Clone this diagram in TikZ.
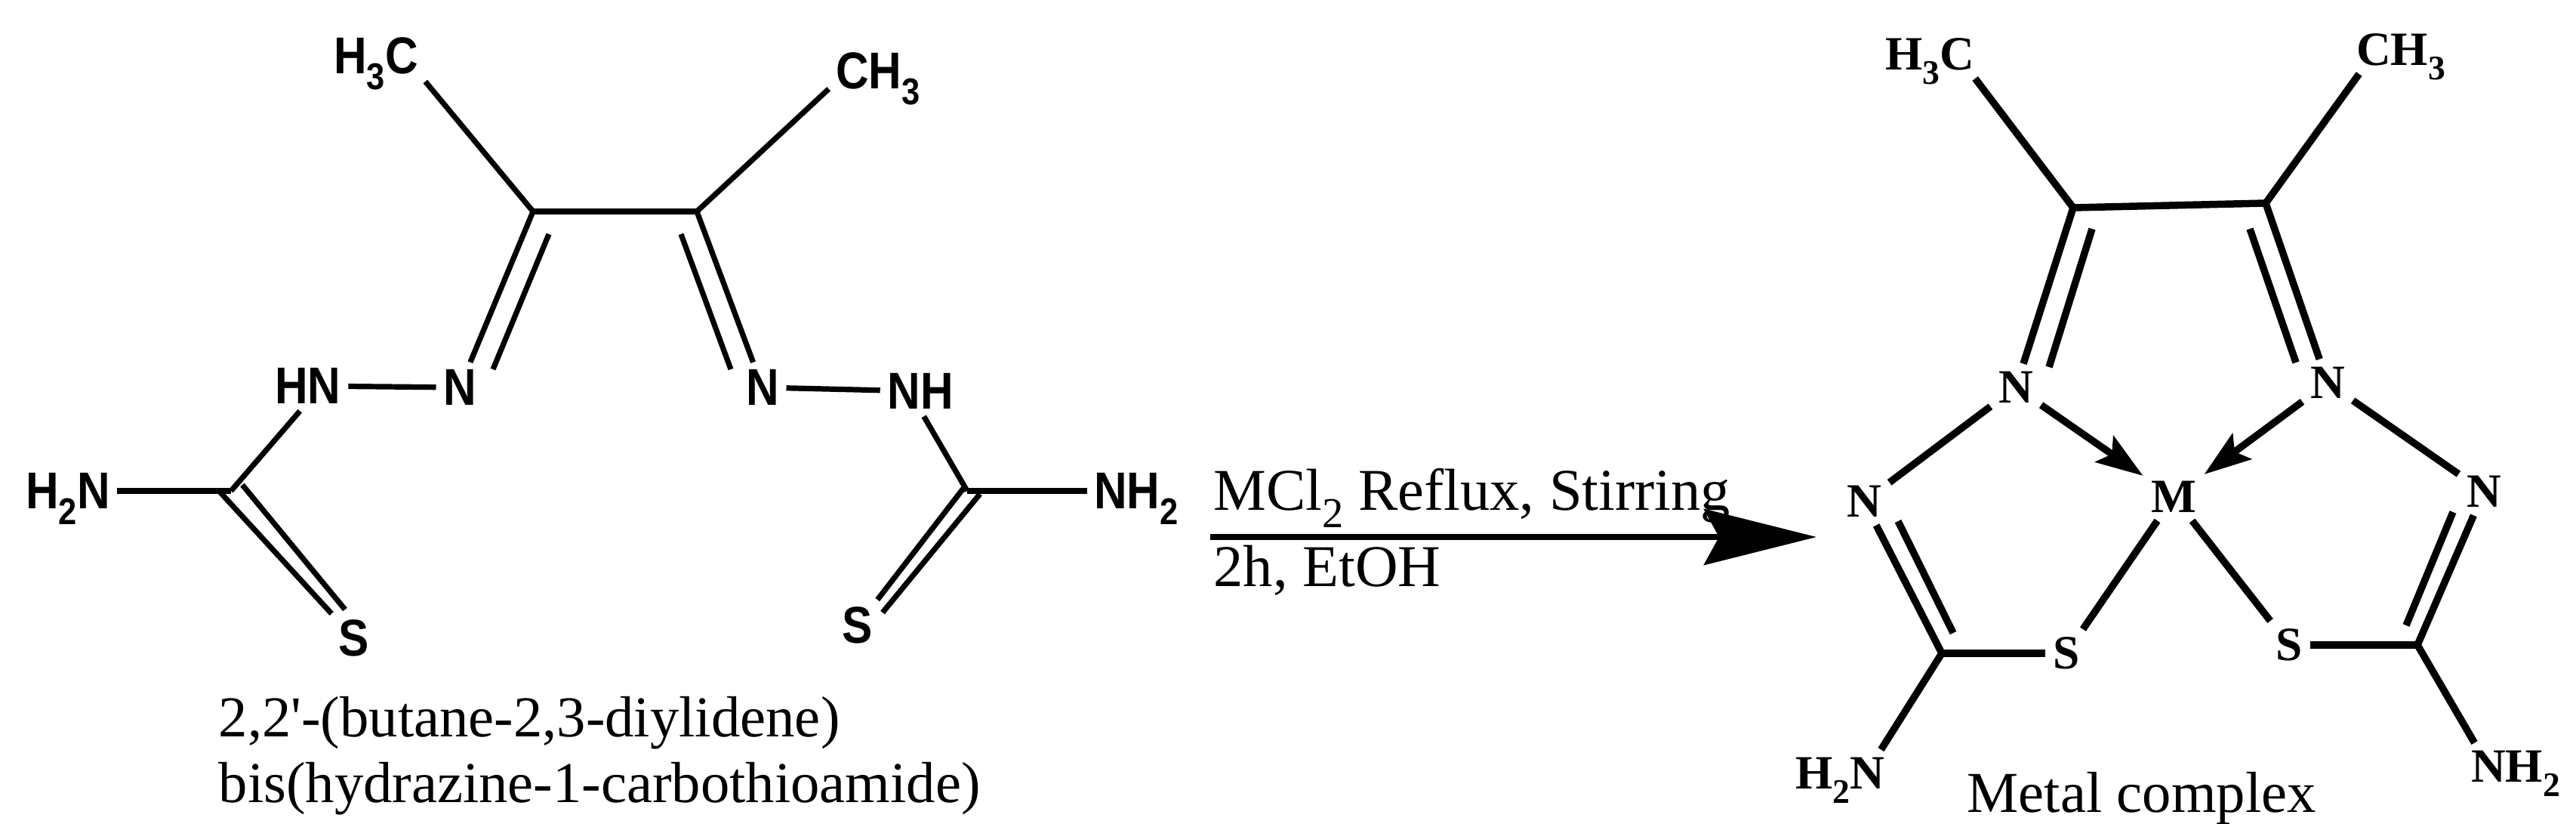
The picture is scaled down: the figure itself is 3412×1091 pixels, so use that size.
\documentclass[tikz,border=0pt]{standalone}
\usepackage{graphicx}
\usepackage{fontspec}
\setmainfont{Liberation Serif}
\setsansfont[FakeStretch=0.88]{Liberation Sans}
\usetikzlibrary{arrows.meta}
\newcommand{\chemsub}[1]{\raisebox{-0.3em}[0pt][0pt]{\scalebox{0.72}{#1}}}
\tikzstyle{ligatom}=[font=\sffamily\bfseries\fontsize{19.5}{20}\selectfont,inner sep=0.09cm]
\tikzstyle{cplxatom}=[font=\rmfamily\bfseries\fontsize{18}{18}\selectfont,inner sep=0.1cm]
\tikzstyle{caption}=[font=\rmfamily\fontsize{21.8}{22}\selectfont,inner sep=0pt,anchor=base west]
\tikzstyle{ligbond} = [draw,line width=0.072cm,-]
\tikzstyle{cplxbond} = [draw,line width=0.095cm,-]
\tikzstyle{dative} = [draw,line width=0.095cm,-{Stealth[length=0.62cm,width=0.42cm,inset=0.12cm]}]

\begin{document}
\begin{tikzpicture}[x=0.01cm,y=-0.01cm]
    \useasboundingbox (0,0) rectangle (3412,1091);
    % Ligand: first the atoms
    \foreach \pos/\name/\lab in {(498,74)/lme/{H\chemsub{3}C}, (1163,94)/rme/{CH\chemsub{3}},
        (609,513)/ln/N, (1010,513)/rn/N, (408,511)/lnh/HN, (1219,518)/rnh/NH,
        (90,650)/lnt/{H\chemsub{2}N}, (1505,650)/rnt/{NH\chemsub{2}}, (469,845)/ls/S, (1136,828)/rs/S}
        \node[ligatom] (\name) at \pos {\lab};
    % the carbons and the ends of the inner lines
    \foreach \pos/\name in {(706,280)/lca, (923,280)/rca, (306,650)/lcb, (1281,650)/rcb,
        (727,310)/lpa, (653,489)/lpb, (902,310)/rpa, (968,489)/rpb,
        (321,642)/lpc, (457,807)/lpd, (1298,654)/rpc, (1169,811)/rpd,
        (291,651)/lpe, (1278,644)/rpe}
        \node[coordinate] (\name) at \pos {};
    % Connect them
    \foreach \source/ \dest in {lca/rca, lca/ln, rca/rn, lca/lme.south east, rca/rme.200,
        lpa/lpb, rpa/rpb, ln/lnh, rn/rnh, lnh.252/lcb, rnh.278/rcb, lnt/lcb, rnt/rcb,
        lpc/lpd, rpc/rpd, lpe/ls, rpe/rs}
        \path[ligbond] (\source) -- (\dest);

    \node[caption] (nameA) at (289,975) {2,2\textquotesingle-(butane-2,3-diylidene)};
    \node[caption] (nameB) at (289,1062) {bis(hydrazine-1-carbothioamide)};

    % Reaction arrow
    \node[coordinate] (arrowtail) at (1603,711) {};
    \node[coordinate] (arrowtip) at (2406,711) {};
    \path[draw,line width=0.075cm,-{Stealth[length=1.49cm,width=0.74cm,inset=0.2cm]}] (arrowtail) -- (arrowtip);
    \node[caption,font=\rmfamily\fontsize{22.3}{22}\selectfont] (condA) at (1607,675) {MCl\chemsub{2} Reflux, Stirring};
    \node[caption,font=\rmfamily\fontsize{22.3}{22}\selectfont] (condB) at (1607,776) {2h, EtOH};

    % Complex: the atoms
    \foreach \pos/\name/\lab in {(2556,72)/cme/{H\chemsub{3}C}, (3180,66)/dme/{CH\chemsub{3}},
        (2670,513)/cna/N, (3083,507)/dna/N, (2879,658)/metal/M,
        (2469,664)/cnb/N, (3290,651)/dnb/N, (2737,865)/cs/S, (3032,854)/ds/S,
        (2437,1024)/cnt/{H\chemsub{2}N}, (3332,1015)/dnt/{NH\chemsub{2}}}
        \node[cplxatom] (\name) at \pos {\lab};
    \foreach \pos/\name in {(2746,275)/cca, (3001,269)/dca, (2572,865)/ccb, (3202,854)/dcb,
        (2771,303)/cpa, (2714,486)/cpb, (2980,303)/dpa, (3041,480)/dpb,
        (2514,690)/cpc, (2587,838)/cpd, (3249,678)/dpc, (3187,828)/dpd}
        \node[coordinate] (\name) at \pos {};
    \foreach \source/ \dest in {cca/dca, cca/cna, dca/dna, cca/cme.-28, dca/dme.210,
        cpa/cpb, dpa/dpb, cna/cnb, dna/dnb, cnb/ccb, dnb/dcb, cpc/cpd, dpc/dpd,
        ccb/cs, dcb/ds, metal/cs, metal/ds, ccb/cnt.30, dcb/dnt.150}
        \path[cplxbond] (\source) -- (\dest);
    \path[dative] (cna) -- (metal);
    \path[dative] (dna) -- (metal);

    \node[caption] (cplxname) at (2605,1075) {Metal complex};
\end{tikzpicture}
\end{document}
